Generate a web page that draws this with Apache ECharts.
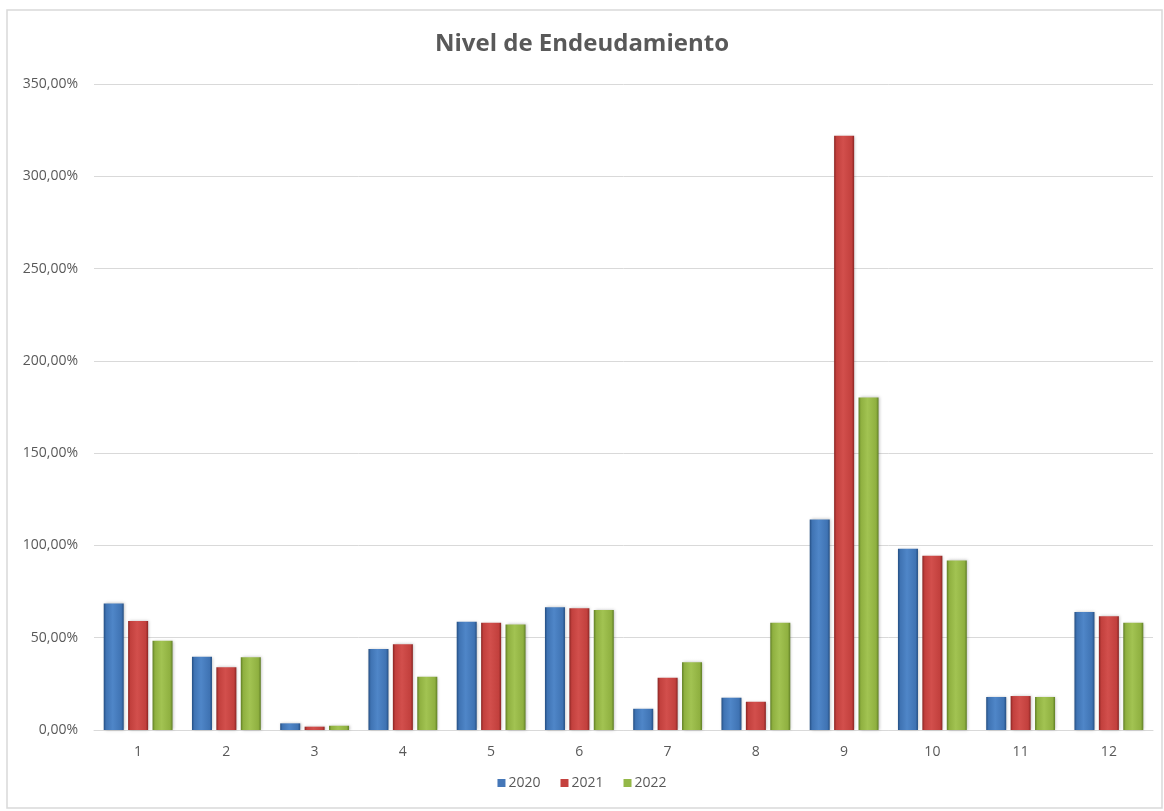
<!DOCTYPE html>
<html>
<head>
<meta charset="utf-8">
<script src="https://cdn.jsdelivr.net/npm/echarts@6/dist/echarts.min.js"></script>
<style>html,body{margin:0;padding:0;background:#fff}#c{width:1164px;height:811px}</style>
</head>
<body>
<div id="c"></div>
<script>
var categories = ['1','2','3','4','5','6','7','8','9','10','11','12'];
var seriesNames = ['2020','2021','2022'];
var values2020 = [68.6, 39.7, 3.6, 43.9, 58.7, 66.5, 11.5, 17.5, 114.1, 98.2, 17.9, 63.9];
var values2021 = [59.0, 34.0, 1.8, 46.4, 58.1, 65.9, 28.3, 15.3, 322.0, 94.4, 18.4, 61.6];
var values2022 = [48.4, 39.4, 2.3, 28.9, 57.2, 65.0, 36.7, 58.1, 180.2, 91.9, 17.9, 58.1];
var yTicks = [0, 50, 100, 150, 200, 250, 300, 350];

function grad(edge, mid, light) {
  return new echarts.graphic.LinearGradient(0, 0, 1, 0, [
    {offset: 0, color: edge},
    {offset: 0.12, color: mid},
    {offset: 0.45, color: light},
    {offset: 0.88, color: mid},
    {offset: 1, color: edge}
  ]);
}
var fills = [
  grad('#244e82', '#3f73b3', '#4f86c8'),
  grad('#8a2523', '#c2403d', '#d24f4c'),
  grad('#5f7e25', '#8fb040', '#a2c352')
];
var legendColors = ['#4577b8', '#c4413e', '#94b848'];
var data = [values2020, values2021, values2022];

var chart = echarts.init(document.getElementById('c'));
var fontFam = '"Open Sans", "Liberation Sans", sans-serif';
chart.setOption({
  animation: false,
  backgroundColor: '#ffffff',
  title: {
    text: 'Nivel de Endeudamiento',
    left: 'center',
    top: 27,
    textStyle: {fontFamily: fontFam, fontSize: 24, fontWeight: 'bold', color: '#595959'}
  },
  legend: {
    bottom: 16,
    left: 'center',
    itemWidth: 8,
    itemHeight: 8,
    itemGap: 20,
    icon: 'rect',
    textStyle: {fontFamily: fontFam, fontSize: 14, color: '#595959', padding: [0, 0, 0, -2]},
    data: seriesNames.map(function (n, i) { return {name: n, itemStyle: {color: legendColors[i]}}; })
  },
  grid: {left: 94, right: 11, top: 84, bottom: 81, containLabel: false},
  xAxis: {
    type: 'category',
    data: categories,
    axisLine: {lineStyle: {color: '#d9d9d9', width: 1}},
    axisTick: {show: false},
    axisLabel: {fontFamily: fontFam, fontSize: 14, color: '#595959', margin: 15}
  },
  yAxis: {
    type: 'value',
    min: 0,
    max: 350,
    interval: 50,
    axisLine: {show: false},
    axisTick: {show: false},
    splitLine: {lineStyle: {color: '#d9d9d9', width: 1}},
    axisLabel: {
      fontFamily: fontFam, fontSize: 14, color: '#595959', margin: 16,
      formatter: function (v) { return v.toFixed(2).replace('.', ',') + '%'; }
    }
  },
  series: seriesNames.map(function (n, i) {
    return {
      name: n,
      type: 'bar',
      data: data[i],
      barGap: '22%',
      barCategoryGap: '22%',
      itemStyle: {color: fills[i], shadowColor: 'rgba(0,0,0,0.25)', shadowBlur: 3, shadowOffsetX: 1, shadowOffsetY: 0}
    };
  }),
  graphic: [{
    type: 'rect',
    shape: {x: 7, y: 10, width: 1155, height: 798},
    style: {fill: 'none', stroke: '#d9d9d9', lineWidth: 1.5},
    silent: true
  }]
});
</script>
</body>
</html>
